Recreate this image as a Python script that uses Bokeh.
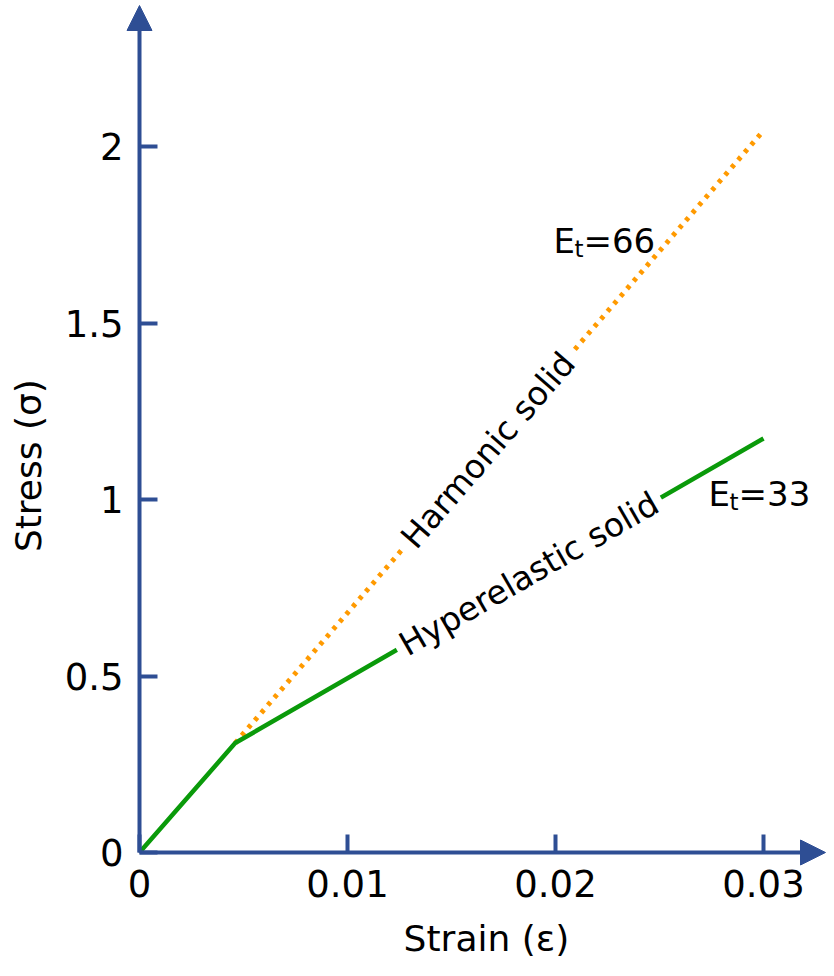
import math
from bokeh.plotting import figure
from bokeh.models import (Range1d, FixedTicker, NumeralTickFormatter, Arrow, NormalHead, Label)
from bokeh.embed import file_html
from bokeh.resources import INLINE

# ---- data ----
hyper_strain = [0.0, 0.0046, 0.03]
hyper_stress = [0.0, 0.31, 1.173]
harm_strain = [0.0046, 0.03]
harm_stress = [0.31, 2.045]
x_ticks = [0, 0.01, 0.02, 0.03]
y_ticks = [0, 0.5, 1, 1.5, 2]
harm_label = "Harmonic solid"
hyper_label = "Hyperelastic solid"
et_harm = "66"
et_hyper = "33"

AXIS = "#2E4E94"
GREEN = "#0A9A0A"
ORANGE = "#FF9A00"
FONT = "DejaVu Sans"

W, H = 826, 960
OX, OY = 139, 852                  # pixel position of the origin
PPX, PPY = 20800.0, 353.0          # pixels per data unit
x0 = -OX / PPX
x1 = (W - OX) / PPX
y0 = -(H - OY) / PPY
y1 = OY / PPY
ppx = W / (x1 - x0)
ppy = H / (y1 - y0)

p = figure(width=W, height=H, output_backend="svg", toolbar_location=None,
           x_range=Range1d(x0, x1), y_range=Range1d(y0, y1), min_border=0)
p.outline_line_color = None
p.grid.visible = False
p.background_fill_color = "white"

for ax, ticks in ((p.xaxis[0], x_ticks), (p.yaxis[0], y_ticks)):
    ax.ticker = FixedTicker(ticks=ticks)
    ax.formatter = NumeralTickFormatter(format="0.[00]")
    ax.fixed_location = 0
    ax.axis_line_color = None
    ax.major_tick_in = 18
    ax.major_tick_out = 0
    ax.major_tick_line_color = AXIS
    ax.major_tick_line_width = 4
    ax.minor_tick_line_color = None
    ax.major_label_text_font = FONT
    ax.major_label_text_font_size = "37px"
    ax.major_label_text_color = "black"
p.xaxis.major_label_standoff = 17
p.yaxis.major_label_standoff = 16

# axes with arrows
p.add_layout(Arrow(end=NormalHead(size=25, fill_color=AXIS, line_color=AXIS),
                   x_start=0, y_start=0, x_end=x1 - 1 / PPX, y_end=0,
                   line_color=AXIS, line_width=4))
p.add_layout(Arrow(end=NormalHead(size=25, fill_color=AXIS, line_color=AXIS),
                   x_start=0, y_start=0, x_end=0, y_end=y1 - 5 / PPY,
                   line_color=AXIS, line_width=4))

# series
p.line(harm_strain, harm_stress, line_color=ORANGE, line_width=5, line_dash="4 6")
p.line(hyper_strain, hyper_stress, line_color=GREEN, line_width=4.5)

def screen_angle(xs, ys):
    return math.atan2((ys[-1] - ys[-2]) * ppy, (xs[-1] - xs[-2]) * ppx)

a_h = screen_angle(harm_strain, harm_stress)
a_y = screen_angle(hyper_strain, hyper_stress)

def on_line(xs, ys, x):
    return ys[-2] + (ys[-1] - ys[-2]) * (x - xs[-2]) / (xs[-1] - xs[-2])

hx = 0.01675
p.add_layout(Label(x=hx, y=on_line(harm_strain, harm_stress, hx), text=harm_label, angle=a_h,
                   text_align="center", text_baseline="middle", text_font=FONT,
                   text_font_size="33px", text_color="black",
                   background_fill_color="white", padding=6))
yx = 0.01872
p.add_layout(Label(x=yx, y=on_line(hyper_strain, hyper_stress, yx), text=hyper_label, angle=a_y,
                   text_align="center", text_baseline="middle", text_font=FONT,
                   text_font_size="33px", text_color="black",
                   background_fill_color="white", padding=6))

def et_label(x, y, num):
    p.add_layout(Label(x=x, y=y, text="E", text_font=FONT, text_font_size="34px",
                       text_baseline="alphabetic", text_align="left", text_color="black"))
    p.add_layout(Label(x=x + 21 / PPX, y=y - 8 / PPY, text="t", text_font=FONT,
                       text_font_size="23px", text_baseline="alphabetic", text_align="left",
                       text_color="black"))
    p.add_layout(Label(x=x + 30 / PPX, y=y, text="=" + num, text_font=FONT,
                       text_font_size="34px", text_baseline="alphabetic", text_align="left",
                       text_color="black"))

et_label(0.0199, 1.733, et_harm)
et_label(0.02736, 1.016, et_hyper)

# axis titles
p.add_layout(Label(x=0.01668, y=-0.243, text="Strain (ε)", text_font=FONT, text_font_size="36px",
                   text_align="center", text_baseline="middle", text_color="black"))
p.add_layout(Label(x=-0.00534, y=1.096, text="Stress (σ)", text_font=FONT, text_font_size="36px",
                   text_align="center", text_baseline="middle", angle=math.pi / 2,
                   text_color="black"))

open("out.html", "w").write(file_html(p, INLINE))
